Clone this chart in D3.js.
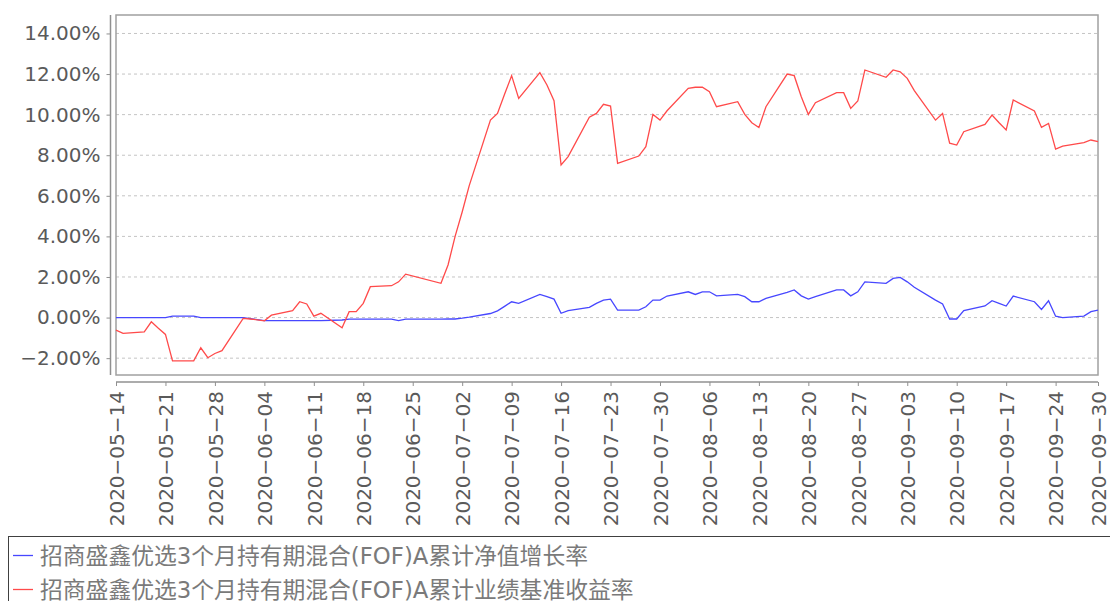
<!DOCTYPE html>
<html>
<head>
<meta charset="utf-8">
<script src="https://cdn.jsdelivr.net/npm/d3@7"></script>
<style>
  body { margin: 0; background: #fff; }
  svg { display: block; }
</style>
</head>
<body>
<div id="chart"></div>
<script>
// Data
const dates = [
  '2020-05-14','2020-05-15','2020-05-18','2020-05-19','2020-05-20','2020-05-21','2020-05-22',
  '2020-05-25','2020-05-26','2020-05-27','2020-05-28','2020-05-29',
  '2020-06-01','2020-06-02','2020-06-03','2020-06-04','2020-06-05',
  '2020-06-08','2020-06-09','2020-06-10','2020-06-11','2020-06-12',
  '2020-06-15','2020-06-16','2020-06-17','2020-06-18','2020-06-19',
  '2020-06-22','2020-06-23','2020-06-24','2020-06-29','2020-06-30',
  '2020-07-01','2020-07-02','2020-07-03',
  '2020-07-06','2020-07-07','2020-07-08','2020-07-09','2020-07-10',
  '2020-07-13','2020-07-14','2020-07-15','2020-07-16','2020-07-17',
  '2020-07-20','2020-07-21','2020-07-22','2020-07-23','2020-07-24',
  '2020-07-27','2020-07-28','2020-07-29','2020-07-30','2020-07-31',
  '2020-08-03','2020-08-04','2020-08-05','2020-08-06','2020-08-07',
  '2020-08-10','2020-08-11','2020-08-12','2020-08-13','2020-08-14',
  '2020-08-17','2020-08-18','2020-08-19','2020-08-20','2020-08-21',
  '2020-08-24','2020-08-25','2020-08-26','2020-08-27','2020-08-28',
  '2020-08-31','2020-09-01','2020-09-02','2020-09-03','2020-09-04',
  '2020-09-07','2020-09-08','2020-09-09','2020-09-10','2020-09-11',
  '2020-09-14','2020-09-15','2020-09-16','2020-09-17','2020-09-18',
  '2020-09-21','2020-09-22','2020-09-23','2020-09-24','2020-09-25',
  '2020-09-28','2020-09-29','2020-09-30'
]

// 累计净值增长率 (%)
const navGrowth = [
  0, 0, 0, 0, 0, 0, 0.07,
  0.07, 0, 0, 0, 0,
  0, -0.05, -0.10, -0.15, -0.15,
  -0.15, -0.15, -0.15, -0.15, -0.15,
  -0.12, -0.08, -0.08, -0.08, -0.08,
  -0.08, -0.15, -0.08, -0.08, -0.07,
  -0.07, -0.03, 0.02,
  0.20, 0.33, 0.55, 0.78, 0.70,
  1.14, 1.03, 0.91, 0.21, 0.34,
  0.50, 0.70, 0.86, 0.91, 0.37,
  0.37, 0.53, 0.86, 0.86, 1.06,
  1.27, 1.14, 1.27, 1.27, 1.07,
  1.14, 1.03, 0.78, 0.78, 0.95,
  1.24, 1.36, 1.07, 0.91, 1.03,
  1.36, 1.36, 1.07, 1.27, 1.76,
  1.69, 1.93, 1.98, 1.76, 1.49,
  0.86, 0.67, -0.07, -0.07, 0.34,
  0.57, 0.83, 0.70, 0.57, 1.06,
  0.78, 0.40, 0.83, 0.07, 0.00,
  0.07, 0.29, 0.37
]

// 累计业绩基准收益率 (%)
const benchmark = [
  -0.62, -0.78, -0.70, -0.21, -0.53, -0.83, -2.13,
  -2.13, -1.49, -1.98, -1.77, -1.63,
  -0.04, -0.07, -0.11, -0.16, 0.12,
  0.34, 0.78, 0.67, 0.07, 0.21,
  -0.50, 0.29, 0.29, 0.70, 1.52,
  1.57, 1.76, 2.14, 1.69, 2.59,
  4.00, 5.20, 6.50,
  9.73, 10.06, 11.00, 11.92, 10.80,
  12.07, 11.46, 10.69, 7.52, 7.93,
  9.87, 10.06, 10.51, 10.42, 7.60,
  7.96, 8.42, 10.01, 9.73, 10.19,
  11.30, 11.35, 11.35, 11.13, 10.39,
  10.64, 10.01, 9.60, 9.37, 10.39,
  12.00, 11.92, 10.88, 10.01, 10.59,
  11.08, 11.08, 10.31, 10.67, 12.20,
  11.84, 12.20, 12.11, 11.79, 11.18,
  9.73, 10.06, 8.59, 8.50, 9.16,
  9.52, 9.98, 9.60, 9.24, 10.72,
  10.18, 9.37, 9.57, 8.30, 8.45,
  8.62, 8.75, 8.67
]

const xTickLabels = [
  '2020-05-14','2020-05-21','2020-05-28','2020-06-04','2020-06-11','2020-06-18','2020-06-25',
  '2020-07-02','2020-07-09','2020-07-16','2020-07-23','2020-07-30','2020-08-06','2020-08-13',
  '2020-08-20','2020-08-27','2020-09-03','2020-09-10','2020-09-17','2020-09-24','2020-09-30'
]
const yTickValues = [-2, 0, 2, 4, 6, 8, 10, 12, 14]

const seriesNames = [
  '招商盛鑫优选3个月持有期混合(FOF)A累计净值增长率',
  '招商盛鑫优选3个月持有期混合(FOF)A累计业绩基准收益率'
]
const seriesColors = ['#4747ff', '#ff4a4a']

// Layout
const width = 1110
const height = 601
const plot = { left: 116, right: 1098, top: 15, bottom: 375 }
const parse = d3.timeParse('%Y-%m-%d')

const svg = d3.select('#chart').append('svg')
  .attr('width', width)
  .attr('height', height)
  .style('font-family', '"DejaVu Sans", "Noto Sans CJK SC", sans-serif')

const x = d3.scaleTime()
  .domain([parse('2020-05-14'), parse('2020-09-30')])
  .range([plot.left, plot.right])

const y = d3.scaleLinear()
  .domain([-2.83, 14.91])
  .range([plot.bottom, plot.top])

// Grid lines
svg.append('g')
  .selectAll('line')
  .data(yTickValues)
  .enter()
  .append('line')
  .attr('x1', plot.left)
  .attr('x2', plot.right)
  .attr('y1', d => y(d))
  .attr('y2', d => y(d))
  .attr('stroke', '#c4c4c4')
  .attr('stroke-width', 1)
  .attr('stroke-dasharray', '3,3')

// Plot frame
svg.append('rect')
  .attr('x', plot.left)
  .attr('y', plot.top)
  .attr('width', plot.right - plot.left)
  .attr('height', plot.bottom - plot.top)
  .attr('fill', 'none')
  .attr('stroke', '#a0a0a0')
  .attr('stroke-width', 1.5)

// Y axis
const yAxis = svg.append('g')
  .attr('transform', 'translate(110.5,0)')
  .call(d3.axisLeft(y)
    .tickValues(yTickValues)
    .tickSize(4)
    .tickPadding(6)
    .tickFormat(d => d3.format('.2f')(d) + '%'))
yAxis.select('.domain')
  .attr('d', `M0,${plot.top}V${plot.bottom}`)
  .attr('stroke', '#909090')
  .attr('stroke-width', 1.5)
yAxis.selectAll('.tick line').attr('stroke', '#909090')
yAxis.selectAll('.tick text')
  .attr('fill', '#5a5a5a')
  .style('font-size', '20px')
  .style('font-family', '"DejaVu Sans", sans-serif')

// X axis
const xAxis = svg.append('g')
  .attr('transform', 'translate(0,382)')
  .call(d3.axisBottom(x)
    .tickValues(xTickLabels.map(parse))
    .tickSize(4)
    .tickFormat(d3.timeFormat('%Y-%m-%d')))
xAxis.select('.domain')
  .attr('d', `M${plot.left},0H${plot.right}`)
  .attr('stroke', '#909090')
  .attr('stroke-width', 1.5)
xAxis.selectAll('.tick line').attr('stroke', '#909090')
xAxis.selectAll('.tick text')
  .text(d => d3.timeFormat('%Y-%m-%d')(d).replace(/-/g, '\u2212'))
  .attr('fill', '#5a5a5a')
  .attr('text-anchor', 'end')
  .attr('transform', 'rotate(-90)')
  .attr('x', -9)
  .attr('y', 0)
  .attr('dy', '0.36em')
  .style('font-size', '20px')
  .style('font-family', '"DejaVu Sans", sans-serif')

// Lines
const line = d3.line()
  .x(d => x(d.date))
  .y(d => y(d.value))

const series = [navGrowth, benchmark].map(values =>
  dates.map((d, i) => ({ date: parse(d), value: values[i] })))

svg.append('g')
  .selectAll('path')
  .data(series)
  .enter()
  .append('path')
  .attr('d', line)
  .attr('fill', 'none')
  .attr('stroke', (_, i) => seriesColors[i])
  .attr('stroke-width', 1.3)

// Legend
const legend = svg.append('g')
legend.append('rect')
  .attr('x', 8.5)
  .attr('y', 536.5)
  .attr('width', 1200)
  .attr('height', 120)
  .attr('fill', 'none')
  .attr('stroke', '#404040')
  .attr('stroke-width', 1)

const legendItem = legend.selectAll('g.item')
  .data(seriesNames)
  .enter()
  .append('g')
  .attr('class', 'item')
  .attr('transform', (_, i) => `translate(0,${555.5 + i * 34})`)

legendItem.append('line')
  .attr('x1', 13)
  .attr('x2', 33)
  .attr('stroke', (_, i) => seriesColors[i])
  .attr('stroke-width', 1.3)

legendItem.append('text')
  .text(d => d)
  .attr('x', 40)
  .attr('dy', '0.36em')
  .attr('fill', '#7a7a7a')
  .style('font-size', '22.8px')
</script>
</body>
</html>
